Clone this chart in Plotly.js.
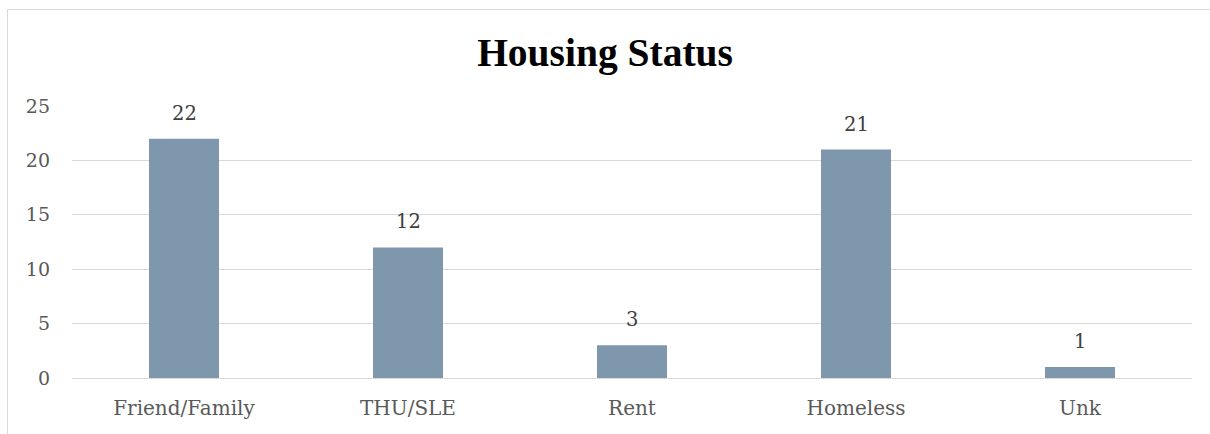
<!DOCTYPE html>
<html>
<head>
<meta charset="utf-8">
<script src="https://cdn.plot.ly/plotly-3.0.1.min.js"></script>
<style>
  html, body { margin: 0; padding: 0; background: #ffffff; overflow: hidden; }
  #topline { position: absolute; left: 7px; top: 9px; width: 1203px; height: 1px; background: #d9d9d9; }
  #leftline { position: absolute; left: 7px; top: 9px; width: 1px; height: 425px; background: #d9d9d9; }
  #chart { position: absolute; left: 0; top: 0; width: 1210px; height: 434px; }
</style>
</head>
<body>
<div id="topline"></div>
<div id="leftline"></div>
<div id="chart"></div>
<script>
const categories = ["Friend/Family", "THU/SLE", "Rent", "Homeless", "Unk"];
const counts = [22, 12, 3, 21, 1];
const yTicks = [0, 5, 10, 15, 20, 25];

const fontFam = "'DejaVu Serif', 'Liberation Serif', serif";

const trace = {
  type: "bar",
  x: categories,
  y: counts,
  marker: { color: "#7f97ad", line: { width: 0 } },
  width: 0.3125,
  hoverinfo: "x+y"
};

const annotations = categories.map((c, i) => ({
  x: c, y: counts[i], xref: "x", yref: "y",
  text: String(counts[i]), showarrow: false,
  yanchor: "bottom", yshift: 12,
  font: { family: fontFam, size: 19.5, color: "#404040" }
}));

const layout = {
  width: 1210, height: 434,
  margin: { l: 72, r: 18, t: 106, b: 56 },
  paper_bgcolor: "rgba(0,0,0,0)",
  plot_bgcolor: "rgba(0,0,0,0)",
  title: {
    text: "<b>Housing Status</b>",
    font: { family: "'Liberation Serif', serif", size: 39.5, color: "#000000" },
    x: 0.5, xanchor: "center",
    y: 1 - 52 / 434, yref: "container", yanchor: "middle"
  },
  xaxis: {
    type: "category",
    showgrid: false, zeroline: false, showline: false,
    ticks: "",
    tickfont: { family: fontFam, size: 20, color: "#595959" },
    ticklabelstandoff: 16
  },
  yaxis: {
    range: [0, 25],
    tickvals: yTicks,
    ticktext: yTicks.map(String),
    showgrid: true, gridcolor: "#d9d9d9", gridwidth: 1,
    zeroline: true, zerolinecolor: "#d9d9d9", zerolinewidth: 1,
    showline: false, ticks: "",
    tickfont: { family: fontFam, size: 19, color: "#595959" },
    ticklabelstandoff: 21
  },
  annotations: annotations,
  showlegend: false
};

Plotly.newPlot("chart", [trace], layout, { displayModeBar: false, staticPlot: true });
</script>
</body>
</html>
